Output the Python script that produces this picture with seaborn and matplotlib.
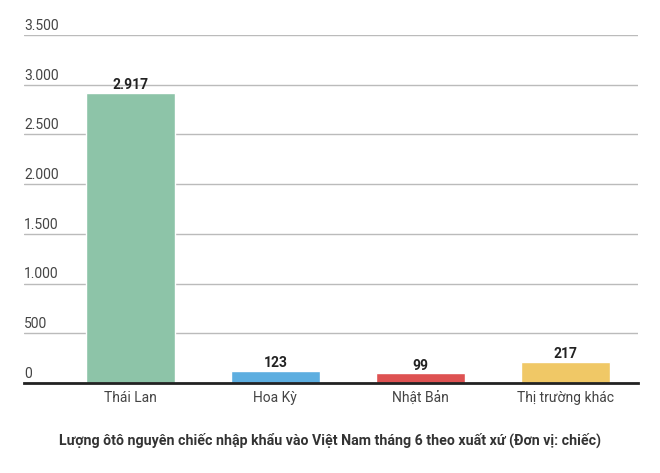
import matplotlib
matplotlib.use("Agg")
import matplotlib.pyplot as plt
import matplotlib.transforms as mtransforms
import seaborn as sns
import pandas as pd

# dati
categories = ["Thái Lan", "Hoa Kỳ", "Nhật Bản", "Thị trường khác"]
values = [2917, 123, 99, 217]
value_labels = ["2.917", "123", "99", "217"]
y_ticks = [0, 500, 1000, 1500, 2000, 2500, 3000, 3500]
y_tick_labels = ["0", "500", "1.000", "1.500", "2.000", "2.500", "3.000", "3.500"]
title = "Lượng ôtô nguyên chiếc nhập khẩu vào Việt Nam tháng 6 theo xuất xứ (Đơn vị: chiếc)"
colors = ["#8DC4A8", "#5DAEE0", "#DE5252", "#F0C866"]

sns.set_theme(style="white")
plt.rcParams["font.family"] = ["Roboto", "DejaVu Sans"]

df = pd.DataFrame({"xuat_xu": categories, "so_luong": values})

fig = plt.figure(figsize=(6.6, 4.73), dpi=100)
ax = fig.add_axes([0.0364, 0.19, 0.930, 0.736])

sns.barplot(data=df, x="xuat_xu", y="so_luong", hue="xuat_xu",
            palette=colors, width=0.614, legend=False, ax=ax, zorder=3,
            saturation=1)

ax.set_ylim(0, 3500)
ax.set_xlim(-0.734, 3.5)
ax.set_yticks(y_ticks)
ax.set_yticklabels([])
ax.tick_params(axis="y", length=0)
ax.yaxis.grid(True, color="#BBBBBB", lw=1.0, zorder=0)
ax.set_axisbelow(True)
for s in ["top", "right", "left"]:
    ax.spines[s].set_visible(False)
ax.spines["bottom"].set_color("#222222")
ax.spines["bottom"].set_linewidth(2)
ax.spines["bottom"].set_zorder(5)

# etichette asse y sopra le linee
trans = mtransforms.blended_transform_factory(ax.transAxes, ax.transData)
for v, lab in zip(y_ticks, y_tick_labels):
    ax.text(0, v + 22, lab, transform=trans, ha="left", va="bottom",
            fontsize=10, color="#444444")

ax.set_xlabel("")
ax.set_ylabel("")
ax.tick_params(axis="x", length=0, pad=6, labelsize=10, labelcolor="#444444")

# valori sopra le barre
for i, (v, lab) in enumerate(zip(values, value_labels)):
    ax.text(i, v + 5, lab, ha="center", va="bottom", fontsize=10,
            fontweight="bold", color="#222222", zorder=6)

fig.text(0.5, 0.068, title, ha="center", va="center", fontsize=10.2,
         fontweight="bold", color="#333333")

fig.savefig("out.png", dpi=100)
